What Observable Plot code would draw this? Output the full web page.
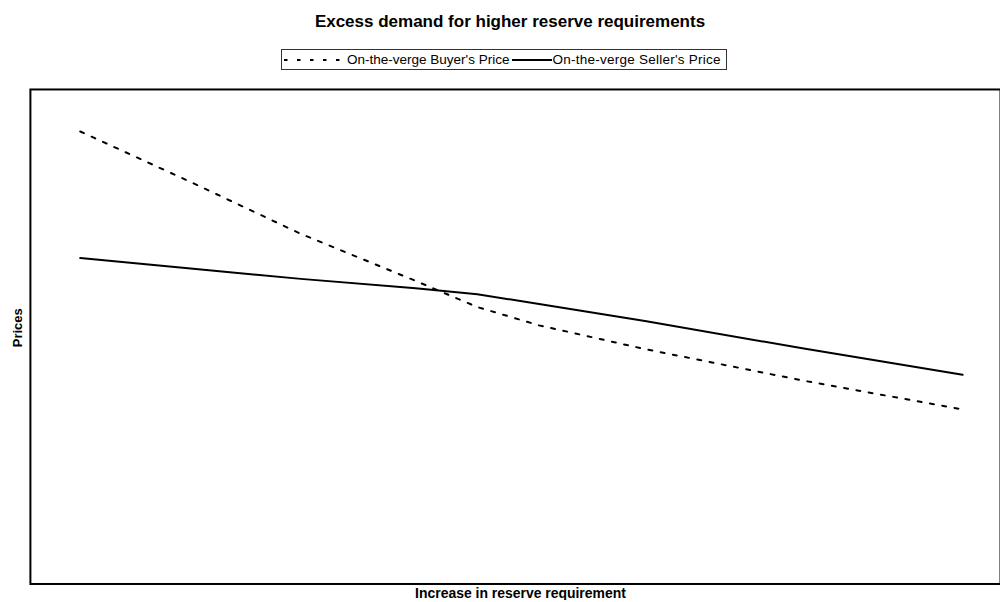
<!DOCTYPE html>
<html>
<head>
<meta charset="utf-8">
<script src="https://cdn.jsdelivr.net/npm/d3@7"></script>
<script src="https://cdn.jsdelivr.net/npm/@observablehq/plot@0.6"></script>
<style>
  html, body { margin: 0; padding: 0; background: #fff; overflow: hidden; width: 1000px; height: 602px; }
  body { font-family: "Liberation Sans", Arial, sans-serif; position: relative; }
  #header { position: relative; height: 80px; width: 1000px; }
  #title { position: absolute; top: 12px; left: 10px; width: 1000px; text-align: center; font-weight: bold; font-size: 17px; color: #000; }
  #legend { position: absolute; top: 49px; left: 281px; height: 21px; box-sizing: border-box; border: 1px solid #333; padding: 0 5px 0 1px; display: flex; align-items: center; font-size: 13.5px; color: #000; white-space: nowrap; }
  #legend svg { display: block; }
  #legend svg.solid { margin-left: 3px; }
  #legend span.s2 { letter-spacing: 0.25px; }
  #chart svg { display: block; }
</style>
</head>
<body>
<div id="header">
  <div id="title">Excess demand for higher reserve requirements</div>
  <div id="legend"></div>
</div>
<div id="chart"></div>
<script>
const xValues = [0, 12.5, 25, 38, 45, 52, 64, 82, 100];
const buyerPrice = [91.5, 81.3, 70.8, 61.3, 56.0, 52.3, 47.5, 41.1, 35.3];
const sellerPrice = [65.9, 63.8, 61.7, 59.8, 58.6, 56.6, 53.2, 47.6, 42.3];
const seriesNames = ["On-the-verge Buyer's Price", "On-the-verge Seller's Price"];
const title = "Excess demand for higher reserve requirements";
const xLabel = "Increase in reserve requirement";
const yLabel = "Prices";

const data = [];
xValues.forEach((x, i) => {
  data.push({x, price: buyerPrice[i], series: seriesNames[0]});
  data.push({x, price: sellerPrice[i], series: seriesNames[1]});
});

// legend
const legend = document.getElementById("legend");
seriesNames.forEach((name, i) => {
  const ns = "http://www.w3.org/2000/svg";
  const s = document.createElementNS(ns, "svg");
  const w = i === 0 ? 64 : 40;
  s.setAttribute("width", w);
  s.setAttribute("height", 10);
  if (i === 1) s.setAttribute("class", "solid");
  const l = document.createElementNS(ns, "line");
  l.setAttribute("x1", i === 0 ? 1 : 0);
  l.setAttribute("x2", w);
  l.setAttribute("y1", 5); l.setAttribute("y2", 5);
  l.setAttribute("stroke", "#000");
  l.setAttribute("stroke-width", 2);
  if (i === 0) l.setAttribute("stroke-dasharray", "3.5,9.5");
  s.appendChild(l);
  legend.appendChild(s);
  const t = document.createElement("span");
  t.textContent = name;
  if (i === 1) t.className = "s2";
  legend.appendChild(t);
});

const buyer = data.filter(d => d.series === seriesNames[0]);
const seller = data.filter(d => d.series === seriesNames[1]);

const chart = Plot.plot({
  width: 1003,
  height: 522,
  marginTop: 9,
  marginBottom: 17,
  marginLeft: 30,
  marginRight: 0,
  x: {domain: [0, 100], insetLeft: 50, insetRight: 38, axis: null},
  y: {domain: [0, 100], axis: null},
  style: {fontFamily: "Liberation Sans, Arial, sans-serif", background: "white"},
  marks: [
    Plot.frame({stroke: "#000", strokeWidth: 2}),
    Plot.line(buyer, {x: "x", y: "price", stroke: "#000", strokeWidth: 2, strokeDasharray: "4,8.5"}),
    Plot.line(seller, {x: "x", y: "price", stroke: "#000", strokeWidth: 2}),
    Plot.text([xLabel], {text: d => d, frameAnchor: "bottom", textAnchor: "middle", lineAnchor: "middle", dy: 10, dx: 5, fontWeight: "bold", fontSize: 14, fill: "#000"}),
    Plot.text([yLabel], {text: d => d, frameAnchor: "left", textAnchor: "middle", lineAnchor: "middle", dx: -12.5, dy: -9, rotate: -90, fontWeight: "bold", fontSize: 13, fill: "#000"})
  ]
});
document.getElementById("chart").appendChild(chart);
</script>
</body>
</html>
